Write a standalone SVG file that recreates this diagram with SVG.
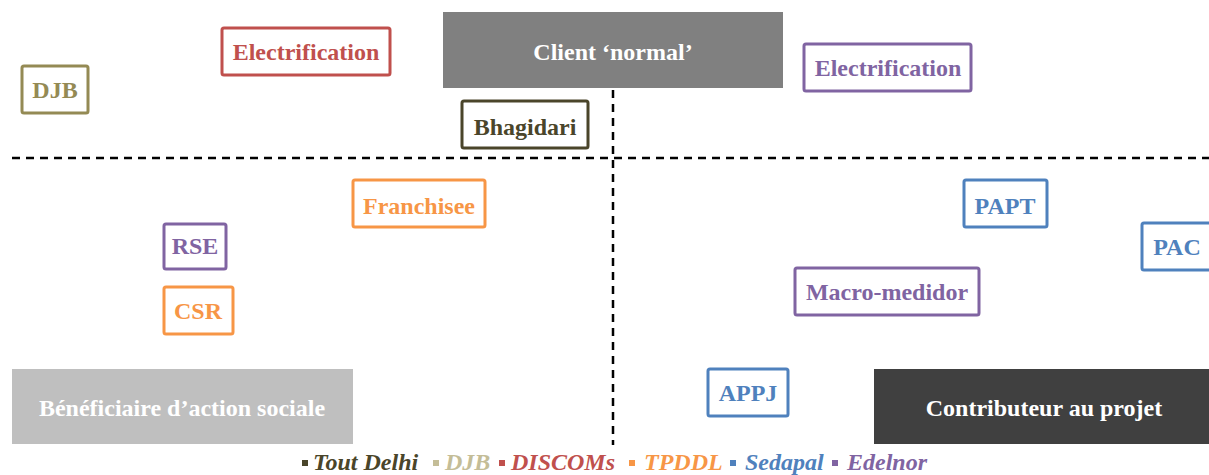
<svg xmlns="http://www.w3.org/2000/svg" width="1209" height="475" viewBox="0 0 1209 475">
<style>
.lbl{font-family:"Liberation Serif","Times New Roman",serif;font-weight:bold;font-size:24px;text-anchor:middle}
.box{fill:#fff;stroke-width:3}
.leg{font-family:"Liberation Serif","Times New Roman",serif;font-weight:bold;font-style:italic;font-size:24px}
.dash{stroke:#000;stroke-width:2.5;stroke-dasharray:8 6;fill:none}
</style>
<rect width="1209" height="475" fill="#fff"/>
<g id="connectors">
<line class="dash" x1="12" y1="158" x2="1209" y2="158"/>
<line class="dash" x1="613" y1="90" x2="613" y2="445"/>
</g>
<g id="client-normal"><rect x="443" y="12" width="340" height="76" fill="#808080"/><text class="lbl" x="613" y="60" fill="#fff">Client ‘normal’</text></g>
<g id="beneficiaire"><rect x="12" y="369" width="341" height="75" fill="#bfbfbf"/><text class="lbl" x="182" y="416" fill="#fff">Bénéficiaire d’action sociale</text></g>
<g id="contributeur"><rect x="874" y="369" width="335" height="75" fill="#404040"/><text class="lbl" x="1044" y="416" fill="#fff">Contributeur au projet</text></g>
<g id="djb"><rect class="box" x="22" y="66" width="66" height="47" rx="2" stroke="#948a54"/><text class="lbl" x="55" y="98" fill="#948a54">DJB</text></g>
<g id="electrification-discoms"><rect class="box" x="222" y="28" width="168" height="47" rx="2" stroke="#c0504d"/><text class="lbl" x="306" y="60" fill="#c0504d">Electrification</text></g>
<g id="bhagidari"><rect class="box" x="462" y="101" width="126" height="47" rx="2" stroke="#4a452a"/><text class="lbl" x="525" y="135" fill="#4a452a">Bhagidari</text></g>
<g id="electrification-edelnor"><rect class="box" x="804" y="44" width="167" height="47" rx="2" stroke="#8064a2"/><text class="lbl" x="888" y="76" fill="#8064a2">Electrification</text></g>
<g id="franchisee"><rect class="box" x="353" y="180" width="132" height="47" rx="2" stroke="#f79646"/><text class="lbl" x="419" y="214" fill="#f79646">Franchisee</text></g>
<g id="rse"><rect class="box" x="164" y="224" width="62" height="45" rx="2" stroke="#8064a2"/><text class="lbl" x="195" y="254" fill="#8064a2">RSE</text></g>
<g id="csr"><rect class="box" x="164" y="287" width="69" height="47" rx="2" stroke="#f79646"/><text class="lbl" x="198" y="319" fill="#f79646">CSR</text></g>
<g id="papt"><rect class="box" x="964" y="180" width="83" height="47" rx="2" stroke="#4f81bd"/><text class="lbl" x="1005" y="214" fill="#4f81bd">PAPT</text></g>
<g id="pac"><rect class="box" x="1142" y="223" width="70" height="47" rx="2" stroke="#4f81bd"/><text class="lbl" x="1177" y="255" fill="#4f81bd">PAC</text></g>
<g id="macro-medidor"><rect class="box" x="795" y="268" width="184" height="47" rx="2" stroke="#8064a2"/><text class="lbl" x="887" y="300" fill="#8064a2">Macro-medidor</text></g>
<g id="appj"><rect class="box" x="708" y="369" width="80" height="47" rx="2" stroke="#4f81bd"/><text class="lbl" x="748" y="401" fill="#4f81bd">APPJ</text></g>
<g id="legend">
<rect x="302" y="460" width="6" height="6" fill="#4a452a"/><text class="leg" x="313" y="470" fill="#4a452a">Tout Delhi</text>
<rect x="433" y="460" width="6" height="6" fill="#c4bd97"/><text class="leg" x="445" y="470" fill="#c4bd97">DJB</text>
<rect x="499" y="460" width="6" height="6" fill="#c0504d"/><text class="leg" x="511" y="470" fill="#c0504d">DISCOMs</text>
<rect x="629" y="460" width="6" height="6" fill="#f79646"/><text class="leg" x="644" y="470" fill="#f79646">TPDDL</text>
<rect x="730" y="460" width="6" height="6" fill="#4f81bd"/><text class="leg" x="745" y="470" fill="#4f81bd">Sedapal</text>
<rect x="832" y="460" width="6" height="6" fill="#8064a2"/><text class="leg" x="847" y="470" fill="#8064a2">Edelnor</text>
</g>
</svg>
